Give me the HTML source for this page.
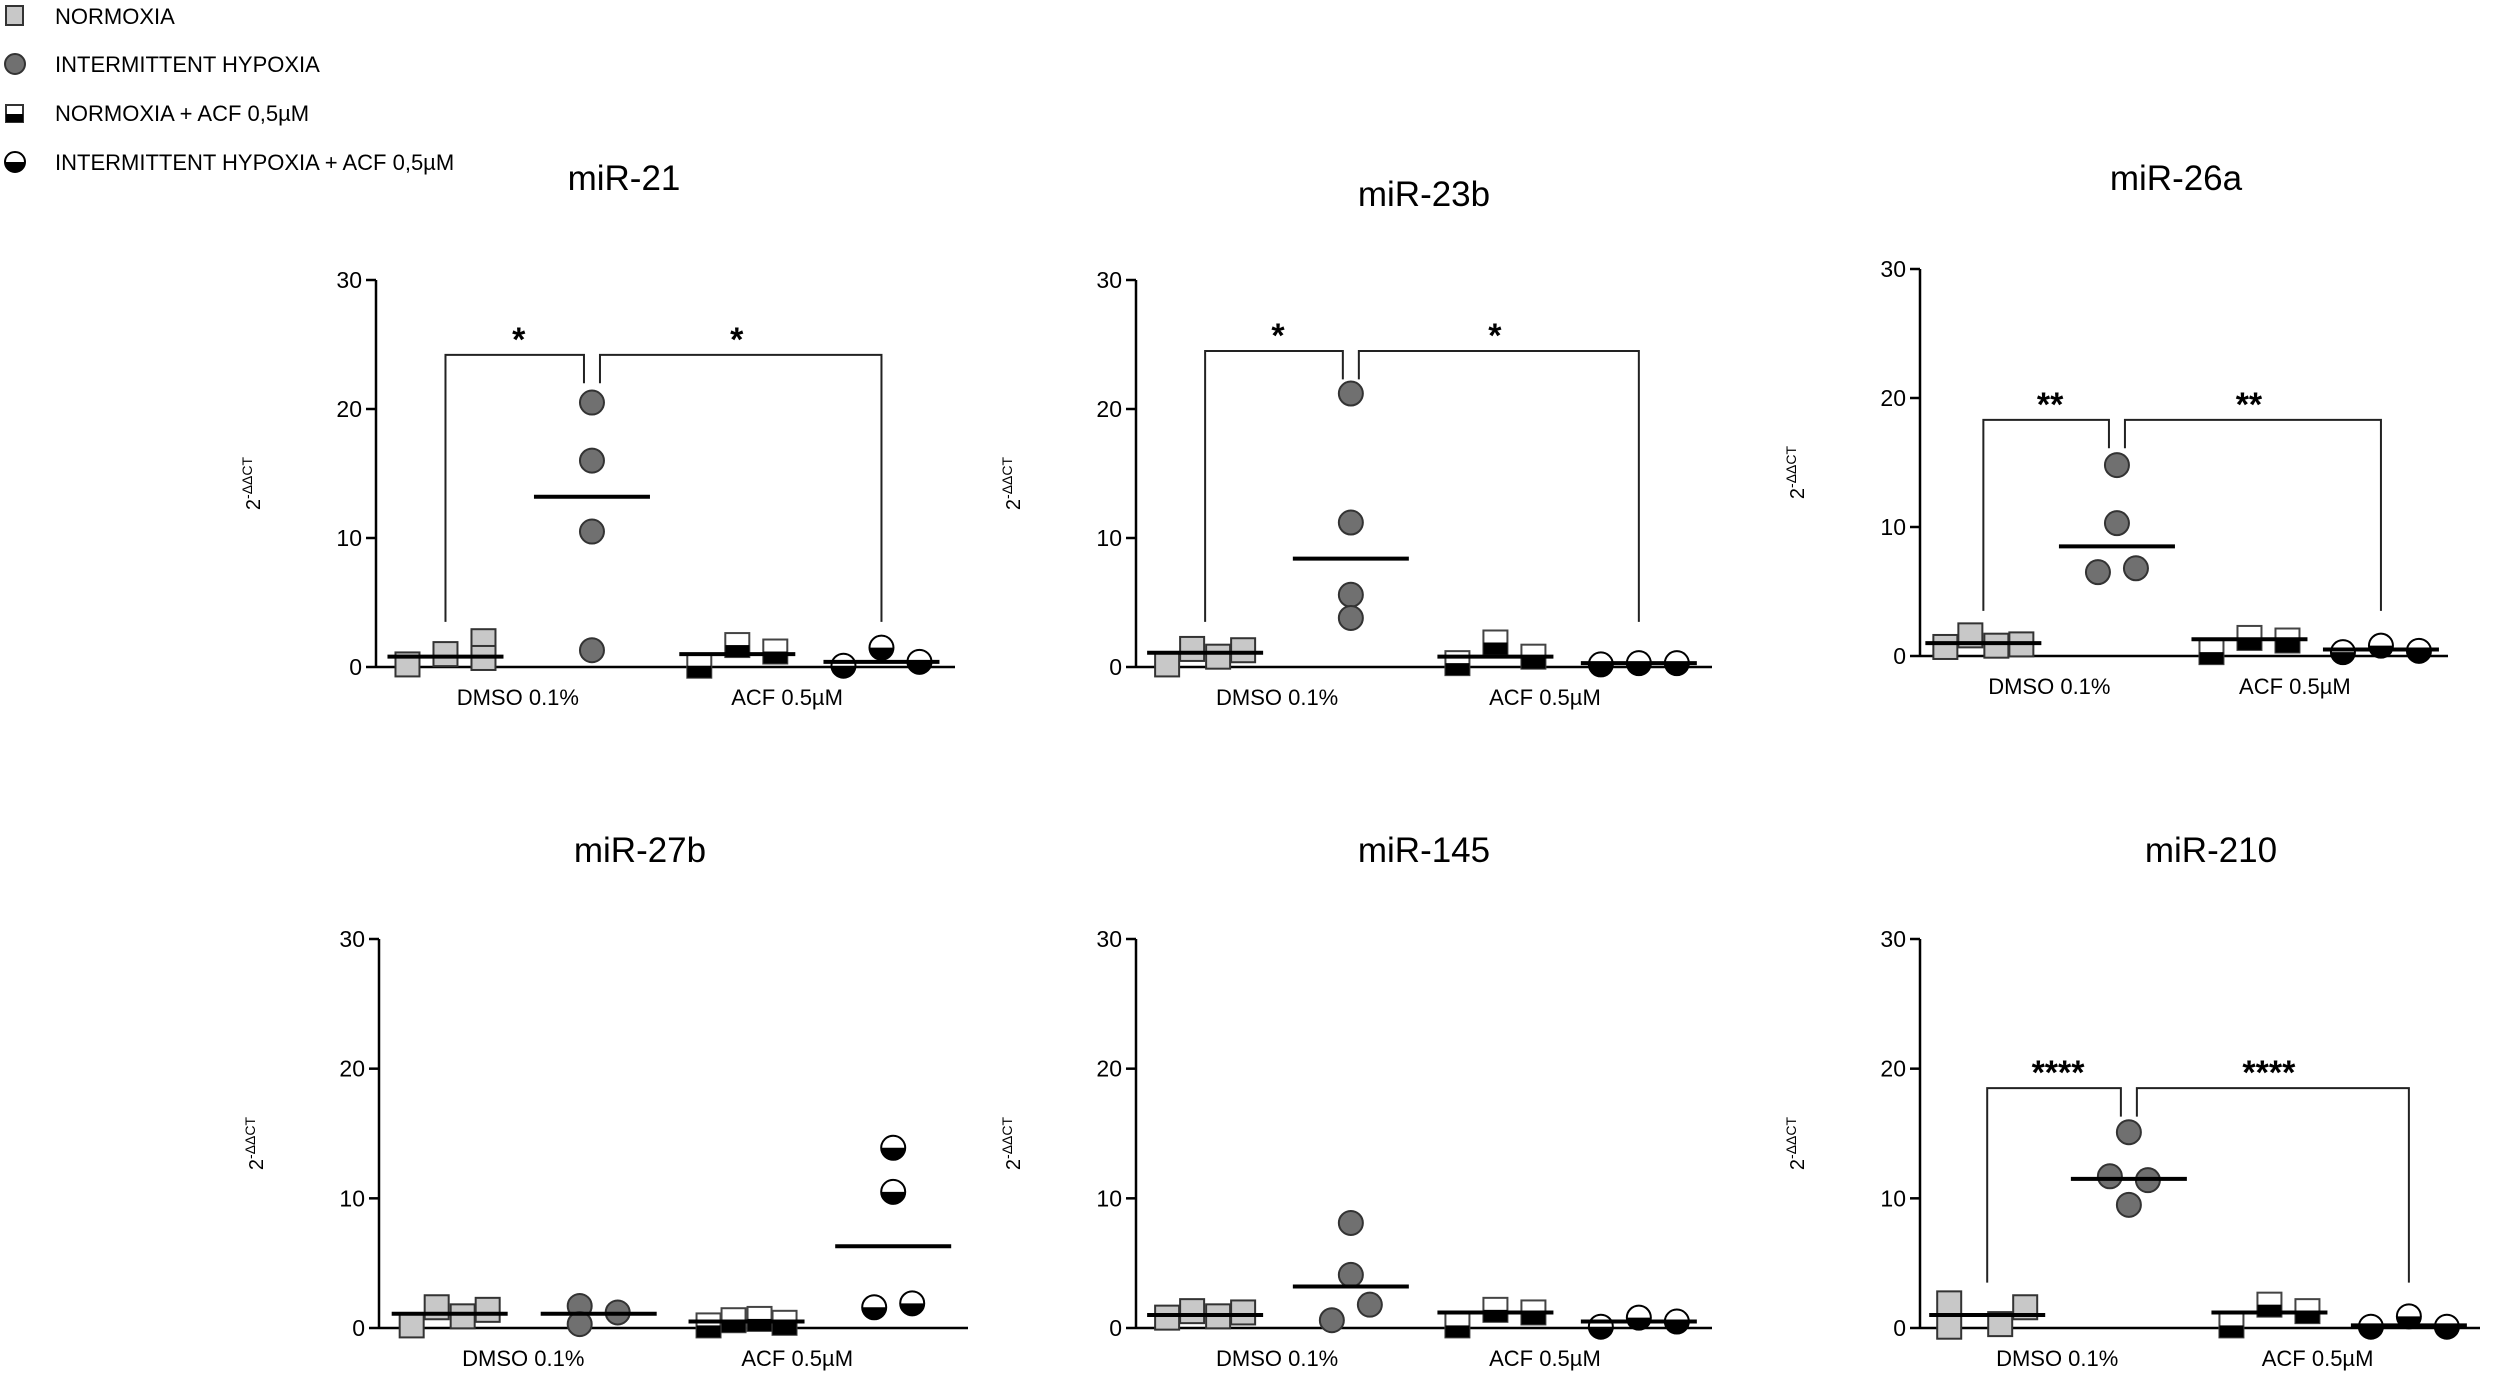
<!DOCTYPE html>
<html><head><meta charset="utf-8">
<style>
html,body{margin:0;padding:0;background:#fff;}
svg{display:block;}
text{font-family:"Liberation Sans",sans-serif;fill:#000;}
</style></head>
<body>
<svg id="fig" width="2508" height="1378" viewBox="0 0 2508 1378" xmlns="http://www.w3.org/2000/svg">
<g>
  <g>
    <rect x="6" y="6" width="17" height="19" fill="#c8c8c8" stroke="#333" stroke-width="2"/>
    <text x="55" y="24" font-size="22">NORMOXIA</text>
  </g>
  <g>
    <circle cx="15" cy="64" r="10" fill="#707070" stroke="#333" stroke-width="2"/>
    <text x="55" y="72" font-size="22">INTERMITTENT HYPOXIA</text>
  </g>
  <g>
    <rect x="6" y="105" width="17" height="17" fill="#fff" stroke="#333" stroke-width="2"/>
    <rect x="6" y="114" width="17" height="8" fill="#000"/>
    <text x="55" y="121" font-size="22">NORMOXIA + ACF 0,5µM</text>
  </g>
  <g>
    <circle cx="15" cy="162" r="10" fill="#fff" stroke="#000" stroke-width="2"/>
    <path d="M5 162 A10 10 0 0 0 25 162 Z" fill="#000"/>
    <text x="55" y="170" font-size="22">INTERMITTENT HYPOXIA + ACF 0,5µM</text>
  </g>
</g>
</svg>
<script>
// ---- data ----
const yTicks = [0, 10, 20, 30];
const xCategories = ["DMSO 0.1%", "ACF 0.5µM"];
const groupNames = ["normoxia", "intermittent-hypoxia", "normoxia-acf", "intermittent-hypoxia-acf"];
const panelTitles = ["miR-21", "miR-23b", "miR-26a", "miR-27b", "miR-145", "miR-210"];
const significance = ["*", "*", "**", "", "", "****"];
const bracketTop = [24.2, 24.5, 18.3, 0, 0, 18.5];

const mir21Values = [[0.2, 1.0, 2.0, 0.7], [20.5, 16.0, 10.5, 1.3], [0.1, 1.7, 1.2], [0.1, 1.5, 0.4]];
const mir21Means = [0.8, 13.2, 1.0, 0.4];
const mir23bValues = [[0.2, 1.4, 0.8, 1.3], [21.2, 11.2, 5.6, 3.8], [0.3, 1.9, 0.8], [0.2, 0.3, 0.3]];
const mir23bMeans = [1.1, 8.4, 0.8, 0.3];
const mir26aValues = [[0.7, 1.6, 0.8, 0.9], [14.8, 10.3, 6.5, 6.8], [0.3, 1.4, 1.2], [0.3, 0.8, 0.4]];
const mir26aMeans = [1.0, 8.5, 1.3, 0.5];
const mir27bValues = [[0.2, 1.6, 0.9, 1.4], [1.7, 0.3, 1.2], [0.2, 0.6, 0.7, 0.4], [13.9, 10.5, 1.6, 1.9]];
const mir27bMeans = [1.1, 1.1, 0.5, 6.3];
const mir145Values = [[0.8, 1.3, 0.9, 1.2], [8.1, 4.1, 0.6, 1.8], [0.2, 1.4, 1.2], [0.1, 0.8, 0.5]];
const mir145Means = [1.0, 3.2, 1.2, 0.5];
const mir210Values = [[1.9, 0.1, 0.3, 1.6], [15.1, 11.7, 11.4, 9.5], [0.2, 1.8, 1.3], [0.1, 0.9, 0.1]];
const mir210Means = [1.0, 11.5, 1.2, 0.2];

const panelValues = [mir21Values, mir23bValues, mir26aValues, mir27bValues, mir145Values, mir210Values];
const panelMeans = [mir21Means, mir23bMeans, mir26aMeans, mir27bMeans, mir145Means, mir210Means];

// ---- layout (not data) ----
const layouts = [
  {ax:376, top:280, bottom:667, right:955, tx:624, ty:190},
  {ax:1136, top:280, bottom:667, right:1712, tx:1424, ty:206},
  {ax:1920, top:269, bottom:656, right:2448, tx:2176, ty:190},
  {ax:379, top:939, bottom:1328, right:968, tx:640, ty:862},
  {ax:1136, top:939, bottom:1328, right:1712, tx:1424, ty:862},
  {ax:1920, top:939, bottom:1328, right:2480, tx:2211, ty:862}
];
const groupFrac = [0.12, 0.373, 0.624, 0.873];
const jitter = [
  [[-38,0,38,38],[0,0,0,0],[-38,0,38],[-38,0,38]],
  [[-38,-13,13,38],[0,0,0,0],[-38,0,38],[-38,0,38]],
  [[-38,-13,13,38],[0,0,-19,19],[-38,0,38],[-38,0,38]],
  [[-38,-13,13,38],[-19,-19,19],[-38,-13,13,38],[0,0,-19,19]],
  [[-38,-13,13,38],[0,0,-19,19],[-38,0,38],[-38,0,38]],
  [[-38,-38,13,38],[0,-19,19,0],[-38,0,38],[-38,0,38]]
];

const NS = "http://www.w3.org/2000/svg";
const svg = document.getElementById("fig");
function mk(tag, attrs, parent) {
  const e = document.createElementNS(NS, tag);
  for (const k in attrs) e.setAttribute(k, attrs[k]);
  parent.appendChild(e);
  return e;
}

panelTitles.forEach((title, p) => {
  const L = layouts[p];
  const yScale = v => L.bottom - (v / 30) * (L.bottom - L.top);
  const xScale = g => L.ax + groupFrac[g] * (L.right - L.ax);
  const g = mk("g", {}, svg);
  
  

  const t = mk("text", {x: L.tx, y: L.ty, "font-size": 35, "text-anchor": "middle"}, g);
  t.textContent = title;
  
  

  const yAxis = mk("line", {x1: L.ax, y1: L.top, x2: L.ax, y2: L.bottom, stroke: "#000", "stroke-width": 2.5}, g);
  
  
  const xAxis = mk("line", {x1: L.ax, y1: L.bottom, x2: L.right, y2: L.bottom, stroke: "#000", "stroke-width": 2.5}, g);
  
  
  yTicks.forEach(v => {
    const y = yScale(v);
    const tk = mk("line", {x1: L.ax - 10, y1: y, x2: L.ax, y2: y, stroke: "#000", "stroke-width": 2.5}, g);
    
    
    const tl = mk("text", {x: L.ax - 14, y: y + 8, "font-size": 23, "text-anchor": "end"}, g);
    tl.textContent = v;
    
    
  });
  const yl = mk("text", {x: 0, y: 0, "font-size": 20, "text-anchor": "middle", transform: `translate(${L.ax - 116},${(L.top + L.bottom) / 2 + 10}) rotate(-90)`}, g);
  yl.innerHTML = '2<tspan dy="-8" font-size="14">-ΔΔCT</tspan>';
  
  
  const xlPos = [0.245, 0.71];
  xCategories.forEach((c, i) => {
    const xl = mk("text", {x: L.ax + xlPos[i] * (L.right - L.ax), y: L.bottom + 38, "font-size": 22, "text-anchor": "middle"}, g);
    xl.textContent = c;
    
    
  });

  if (significance[p]) {
    const x0 = xScale(0), x1 = xScale(1), x3 = xScale(3);
    const yt = yScale(bracketTop[p]), yb = yScale(3.5), yi = yScale(bracketTop[p] - 2.2);
    const br = mk("path", {d: `M${x0} ${yb} V${yt} H${x1 - 8} V${yi} M${x1 + 8} ${yi} V${yt} H${x3} V${yb}`, fill: "none", stroke: "#222", "stroke-width": 2}, g);
    
    
    [(x0 + x1) / 2, (x1 + x3) / 2].forEach(sx => {
      const st = mk("text", {x: sx, y: yt - 4, "font-size": 34, "font-weight": "bold", "text-anchor": "middle"}, g);
      st.textContent = significance[p];
      
      
    });
  }

  panelValues[p].forEach((vals, gi) => {
    const cx0 = xScale(gi);
    vals.forEach((v, k) => {
      const cx = cx0 + jitter[p][gi][k], cy = yScale(v);
      const pg = mk("g", {}, g);
      
      
      if (gi === 0) {
        mk("rect", {x: cx - 12, y: cy - 12, width: 24, height: 24, fill: "#c8c8c8", stroke: "#333", "stroke-width": 2}, pg);
      } else if (gi === 1) {
        mk("circle", {cx: cx, cy: cy, r: 12, fill: "#707070", stroke: "#333", "stroke-width": 2}, pg);
      } else if (gi === 2) {
        mk("rect", {x: cx - 12, y: cy - 12, width: 24, height: 24, fill: "#fff", stroke: "#444", "stroke-width": 2}, pg);
        mk("rect", {x: cx - 12, y: cy, width: 24, height: 12, fill: "#000"}, pg);
      } else {
        mk("circle", {cx: cx, cy: cy, r: 12, fill: "#fff", stroke: "#000", "stroke-width": 2}, pg);
        mk("path", {d: `M${cx - 12} ${cy} A12 12 0 0 0 ${cx + 12} ${cy} Z`, fill: "#000"}, pg);
      }
    });
    const m = panelMeans[p][gi];
    const ml = mk("line", {x1: cx0 - 58, y1: yScale(m), x2: cx0 + 58, y2: yScale(m), stroke: "#000", "stroke-width": 4}, g);
    
    
  });
});
</script>
</body></html>
